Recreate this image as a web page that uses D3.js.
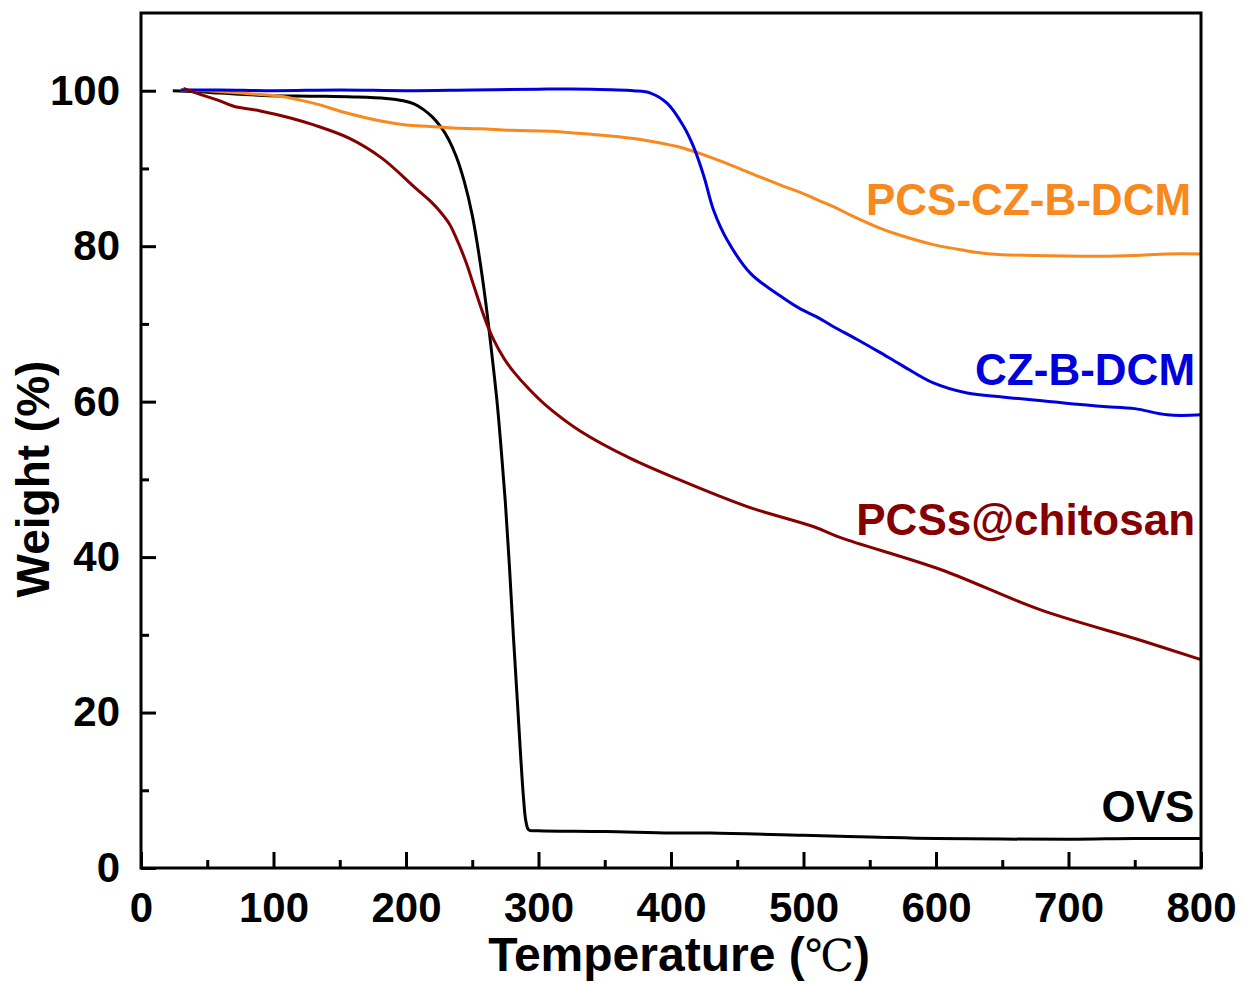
<!DOCTYPE html>
<html>
<head>
<meta charset="utf-8">
<script src="https://cdn.jsdelivr.net/npm/d3@7"></script>
<style>
  html, body { margin: 0; padding: 0; background: #fff; }
  svg { display: block; }
  text { font-family: "Liberation Sans", Arial, Helvetica, sans-serif; font-weight: bold; }
</style>
</head>
<body>
<svg id="chart" width="1242" height="983"></svg>
<script>
// TGA curves: temperature (°C) vs remaining weight (%)
const ovs = [
  [24,100],[40,99.9],[60,99.7],[92,99.4],[130,99.3],[160,99.2],[185,99.0],[198,98.7],
  [206,98.3],[213,97.6],[220,96.6],[226,95.4],[232,93.8],[238,91.5],[244,88.3],[250,84],
  [255,79],[260,73],[265,65.8],[269,59.5],[272,53.5],[275,47],[278,39],[281,30],[284,21.6],
  [286.5,14.5],[288.7,9],[290.5,6],[292.6,4.9],[300,4.8],[350,4.7],[400,4.5],[430,4.5],
  [500,4.2],[550,4.0],[600,3.8],[700,3.7],[750,3.8],[800,3.8]
];
const pcsCzBDcm = [
  [30,100.1],[50,100],[67.5,99.8],[90,99.5],[105,99.3],[130,98.4],[156,97.1],[181,96.1],
  [200,95.6],[218.5,95.4],[235,95.2],[256,95.1],[280,94.9],[309,94.8],[340,94.4],[359,94.1],
  [384.5,93.5],[409.6,92.6],[435,91.1],[460,89.4],[485,87.7],[498,86.9],[510,86.0],
  [522.6,85.1],[535.5,84],[558,82.3],[573,81.4],[598,80.2],[620,79.5],[641,79.0],[674,78.8],
  [724,78.7],[750,78.8],[774.5,79.0],[800,79.0]
];
const czBDcm = [
  [30,100.1],[60,100.1],[100,100],[150,100.1],[200,100],[250,100.1],[300,100.2],[340,100.2],
  [371.7,100.0],[384.5,99.7],[397,98.4],[409.6,95.4],[417,92.8],[424.8,89],[432,84.7],
  [442.4,80.8],[460,76.5],[485,73.3],[498,71.9],[510,70.9],[522,69.7],[540.5,68],[557,66.4],
  [573,64.8],[598,62.4],[623.5,61.1],[650,60.6],[674,60.2],[724,59.4],[750,59.1],[774.5,58.3],
  [800,58.3]
];
const pcssChitosan = [
  [32,100.3],[45,99.5],[58,98.8],[70,98.0],[90,97.4],[112.8,96.5],[130.4,95.6],[157,93.9],
  [182,91.3],[207,87.5],[219,85.7],[226,84.4],[233,82.8],[238,81.0],[242,79.4],[246,77.6],
  [251,75.0],[256,72.4],[261,70.0],[266,68.0],[273.8,65.6],[281,63.9],[293,61.6],[306.5,59.4],
  [331.7,56.2],[369.4,52.7],[407,49.9],[457.5,46.5],[507.8,43.9],[528,42.5],[603.4,38.4],
  [679,33.2],[754.3,29.3],[800,26.8]
];

const seriesNames = ["OVS", "PCS-CZ-B-DCM", "CZ-B-DCM", "PCSs@chitosan"];
const seriesData = [ovs, pcsCzBDcm, czBDcm, pcssChitosan];
const seriesColors = ["#000000", "#F7891E", "#0000DD", "#850000"];
// label anchor (temperature, weight) at the right end of each label
const labelAnchors = [[795, 5.9], [792.5, 84.0], [795.5, 62.2], [795.5, 42.9]];

const xMajorTicks = [0, 100, 200, 300, 400, 500, 600, 700, 800];
const xMinorTicks = [50, 150, 250, 350, 450, 550, 650, 750];
const yMajorTicks = [0, 20, 40, 60, 80, 100];
const yMinorTicks = [10, 30, 50, 70, 90];

const svg = d3.select("#chart");
const plotLeft = 141, plotRight = 1201, plotTop = 13, plotBottom = 868;

const x = d3.scaleLinear().domain([0, 800]).range([plotLeft, plotRight]);
const y = d3.scaleLinear().domain([0, 110]).range([plotBottom, plotTop]);

// curves
const line = d3.line()
  .x(d => x(d[0]))
  .y(d => y(d[1]))
  .curve(d3.curveCatmullRom.alpha(0.5));

svg.append("g").selectAll("path")
  .data(seriesData)
  .join("path")
  .attr("d", line)
  .attr("fill", "none")
  .attr("stroke", (d, i) => seriesColors[i])
  .attr("stroke-width", 3)
  .attr("stroke-linejoin", "round");

// axes with inward ticks
function styleAxis(g) {
  g.select(".domain").remove();
  g.selectAll(".tick line").attr("stroke", "#000").attr("stroke-width", 3);
  g.selectAll(".tick text").attr("fill", "#000")
    .style("font-size", "42px")
    .style("font-family", "'Liberation Sans', Arial, sans-serif")
    .style("font-weight", "bold");
}

svg.append("g")
  .attr("transform", `translate(0,${plotBottom})`)
  .call(d3.axisBottom(x).tickValues(xMajorTicks).tickSize(-16).tickPadding(24).tickFormat(d3.format("d")))
  .call(styleAxis);

svg.append("g")
  .attr("transform", `translate(0,${plotBottom})`)
  .call(d3.axisBottom(x).tickValues(xMinorTicks).tickSize(-8).tickFormat(""))
  .call(styleAxis);

svg.append("g")
  .attr("transform", `translate(${plotLeft},0)`)
  .call(d3.axisLeft(y).tickValues(yMajorTicks).tickSize(-15).tickPadding(21).tickFormat(d3.format("d")))
  .call(styleAxis);

svg.append("g")
  .attr("transform", `translate(${plotLeft},0)`)
  .call(d3.axisLeft(y).tickValues(yMinorTicks).tickSize(-8).tickFormat(""))
  .call(styleAxis);

// frame
svg.append("rect")
  .attr("x", plotLeft).attr("y", plotTop)
  .attr("width", plotRight - plotLeft).attr("height", plotBottom - plotTop)
  .attr("fill", "none").attr("stroke", "#000").attr("stroke-width", 3);

// series labels
svg.append("g").selectAll("text")
  .data(seriesNames)
  .join("text")
  .attr("x", (d, i) => x(labelAnchors[i][0]))
  .attr("y", (d, i) => y(labelAnchors[i][1]))
  .attr("text-anchor", "end")
  .attr("fill", (d, i) => seriesColors[i])
  .style("font-size", "44px")
  .text(d => d);

// axis titles
const xTitle = svg.append("text")
  .attr("x", 679).attr("y", 971)
  .attr("text-anchor", "middle")
  .attr("fill", "#000")
  .style("font-size", "48px");
xTitle.append("tspan").text("Temperature (");
xTitle.append("tspan")
  .style("font-family", "'DejaVu Serif', 'Noto Sans CJK SC', serif")
  .style("font-weight", "normal")
  .style("font-size", "44px")
  .text("℃");
xTitle.append("tspan").text(")");

svg.append("text")
  .attr("transform", "translate(49,479) rotate(-90)")
  .attr("text-anchor", "middle")
  .attr("fill", "#000")
  .style("font-size", "46px")
  .text("Weight (%)");
</script>
</body>
</html>
